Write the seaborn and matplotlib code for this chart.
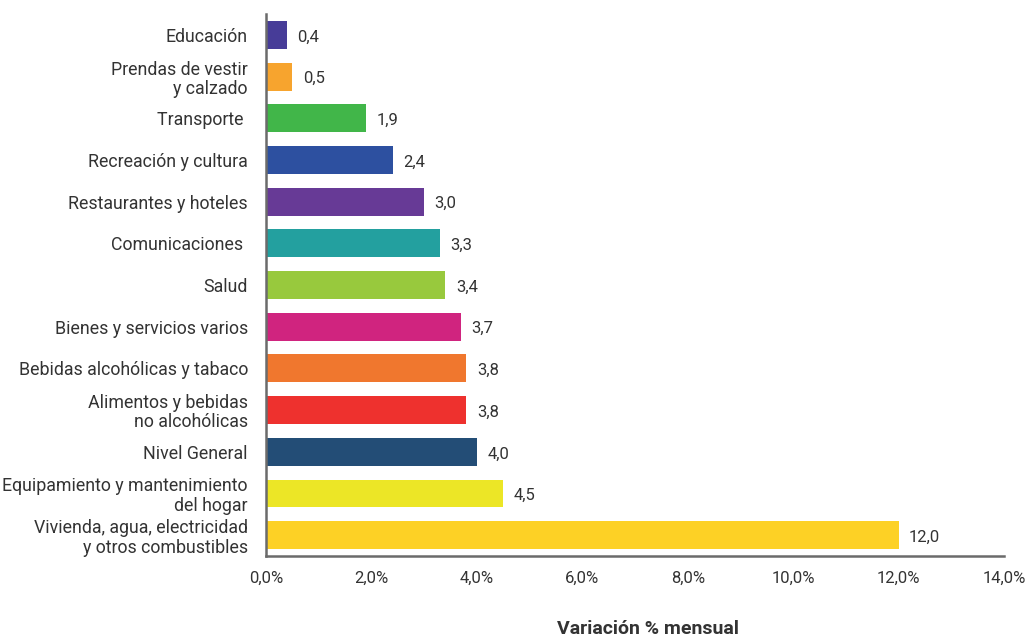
import pandas as pd
import seaborn as sns
import matplotlib.pyplot as plt

categorias = ["Educación", "Prendas de vestir\ny calzado", "Transporte ", "Recreación y cultura",
              "Restaurantes y hoteles", "Comunicaciones ", "Salud", "Bienes y servicios varios",
              "Bebidas alcohólicas y tabaco", "Alimentos y bebidas\nno alcohólicas", "Nivel General",
              "Equipamiento y mantenimiento\ndel hogar", "Vivienda, agua, electricidad\ny otros combustibles"]
valores = [0.4, 0.5, 1.9, 2.4, 3.0, 3.3, 3.4, 3.7, 3.8, 3.8, 4.0, 4.5, 12.0]
colores = ["#473C98", "#F7A42E", "#41B649", "#2D50A0", "#673A96", "#23A09F", "#98C93D",
           "#D0247F", "#F0772E", "#EE312E", "#234D76", "#ECE626", "#FDD125"]
ticks_x = [0, 2, 4, 6, 8, 10, 12, 14]

sns.set_style("white")
plt.rcParams['font.family'] = ['Roboto', 'DejaVu Sans']
texto = "#333333"
eje = "#6b6b6b"

df = pd.DataFrame({"cat": categorias, "val": valores})

fig = plt.figure(figsize=(10.27, 6.41), dpi=100)
ax = fig.add_axes([0.259, 0.1326, 0.7186, 0.8455])
sns.barplot(data=df, x="val", y="cat", hue="cat", palette=colores, orient="h",
            width=0.67, legend=False, ax=ax, saturation=1, linewidth=0)

for i, v in enumerate(valores):
    ax.text(v + 0.2, i + 0.05, f"{v:.1f}".replace(".", ","), va="center", ha="left",
            fontsize=12, color=texto)

ax.set_xlim(0, 14)
ax.set_ylim(len(categorias) - 0.5, -0.5)
ax.set_xticks(ticks_x)
ax.set_xticklabels([f"{t:.1f}%".replace(".", ",") for t in ticks_x], fontsize=12, color=texto)
# marcas del eje y en los limites entre categorias
ax.set_yticks([i - 0.5 for i in range(len(categorias) + 1)], minor=False)
ax.set_yticklabels([])
ax.set_yticks(range(len(categorias)), minor=True)
ax.set_yticklabels(categorias, minor=True, fontsize=12.8, color=texto, linespacing=1.1)
ax.tick_params(axis="y", which="minor", length=0, pad=13)
ax.tick_params(axis="y", which="major", length=5, width=1.2, color=eje, direction="out")
ax.tick_params(axis="x", length=5, width=1.2, color=eje, direction="out", pad=6)
ax.set_xlabel("")
ax.set_ylabel("")

for s in ["top", "right"]:
    ax.spines[s].set_visible(False)
for s in ["left", "bottom"]:
    ax.spines[s].set_color(eje)
    ax.spines[s].set_linewidth(1.8)

fig.text(0.631, 0.004, "Variación % mensual", fontsize=14, fontweight="bold",
         color=texto, ha="center", va="bottom")

fig.savefig("out.png", dpi=100)
